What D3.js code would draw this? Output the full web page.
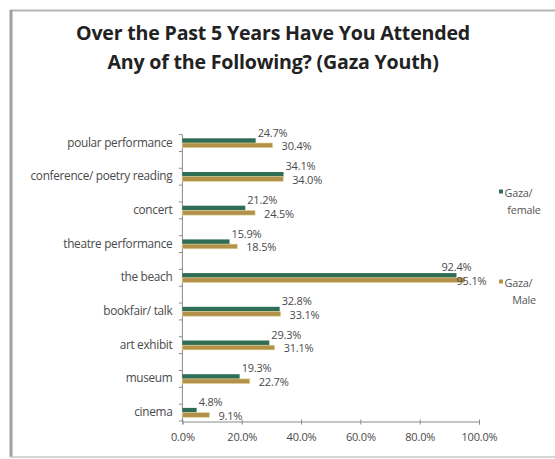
<!DOCTYPE html>
<html>
<head>
<meta charset="utf-8">
<script src="https://cdn.jsdelivr.net/npm/d3@7/dist/d3.min.js"></script>
<style>
  html, body { margin: 0; padding: 0; background: #fff; }
  svg { display: block; }
  text { font-family: "Open Sans", "Noto Sans", sans-serif; }
</style>
</head>
<body>
<svg id="chart" width="555" height="459"></svg>
<script>
// Activities attended over the past five years, Gaza youth (percent)
const categories = [
  "poular performance",
  "conference/ poetry reading",
  "concert",
  "theatre performance",
  "the beach",
  "bookfair/ talk",
  "art exhibit",
  "museum",
  "cinema"
];
const femaleValues = [24.7, 34.1, 21.2, 15.9, 92.4, 32.8, 29.3, 19.3, 4.8];
const maleValues   = [30.4, 34.0, 24.5, 18.5, 95.1, 33.1, 31.1, 22.7, 9.1];
const seriesNames  = ["Gaza/ female", "Gaza/ Male"];
const xTicks = [0, 20, 40, 60, 80, 100];

const titleLines = [
  "Over the Past 5 Years Have You Attended",
  "Any of the Following? (Gaza Youth)"
];

const GREEN = "#2f6d55";
const TAN = "#b39149";

const svg = d3.select("#chart");

// frame
svg.append("line").attr("x1", 10).attr("y1", 10.5).attr("x2", 555).attr("y2", 10.5)
  .attr("stroke", "#b5b5b5").attr("stroke-width", 2);
svg.append("line").attr("x1", 11).attr("y1", 10).attr("x2", 11).attr("y2", 457)
  .attr("stroke", "#a0a0a0").attr("stroke-width", 3);
svg.append("line").attr("x1", 10).attr("y1", 457).attr("x2", 555).attr("y2", 457)
  .attr("stroke", "#c8c8c8").attr("stroke-width", 1.5);

// title
svg.append("g").selectAll("text").data(titleLines).join("text")
  .attr("x", 273).attr("y", (d, i) => 40 + i * 29)
  .attr("text-anchor", "middle")
  .attr("font-size", 19.6).attr("font-weight", 700).attr("fill", "#222")
  .attr("letter-spacing", -0.2)
  .text(d => d);

const x = d3.scaleLinear().domain([0, 100]).range([182.4, 479]);
const y = d3.scaleBand().domain(categories).range([126.15, 429.45]);
const bw = y.bandwidth();
const barH = 4.7;
const axisTop = 135, axisBottom = 421.5;

// y axis line and ticks
svg.append("line").attr("x1", x(0)).attr("x2", x(0)).attr("y1", axisTop).attr("y2", axisBottom)
  .attr("stroke", "#8a8a8a").attr("stroke-width", 1);
const yTickPos = [];
categories.forEach(c => { yTickPos.push(y(c) + bw * 0.25, y(c) + bw * 0.75); });
svg.append("g").selectAll("line").data(yTickPos).join("line")
  .attr("x1", x(0) - 3.5).attr("x2", x(0)).attr("y1", d => d).attr("y2", d => d)
  .attr("stroke", "#8a8a8a").attr("stroke-width", 1);

// category labels
const yAxis = svg.append("g").attr("transform", `translate(${x(0)},0)`)
  .call(d3.axisLeft(y).tickSize(0).tickPadding(10));
yAxis.select(".domain").remove();
yAxis.selectAll("text").attr("font-size", 11.8).attr("fill", "#4a4a4a")
  .attr("font-family", "'Open Sans', sans-serif").attr("dy", "0.3em")
  .attr("letter-spacing", -0.3);

// x axis
const xAxis = svg.append("g").attr("transform", `translate(0,${axisBottom})`)
  .call(d3.axisBottom(x).tickValues(xTicks).tickSize(3).tickPadding(9)
    .tickFormat(d => d.toFixed(1) + "%"));
xAxis.select(".domain").attr("stroke", "#8a8a8a");
xAxis.selectAll(".tick line").attr("stroke", "#8a8a8a").attr("y1", -2);
xAxis.selectAll("text").attr("font-size", 11).attr("fill", "#4a4a4a")
  .attr("font-family", "'Open Sans', sans-serif").attr("letter-spacing", -0.2);

// bars
const rows = categories.map((c, i) => ({ c, f: femaleValues[i], m: maleValues[i] }));
const g = svg.append("g");
g.selectAll("rect.f").data(rows).join("rect").attr("class", "f")
  .attr("x", x(0)).attr("y", d => y(d.c) + bw / 2 - barH)
  .attr("width", d => x(d.f) - x(0)).attr("height", barH)
  .attr("fill", GREEN);
g.selectAll("rect.m").data(rows).join("rect").attr("class", "m")
  .attr("x", x(0)).attr("y", d => y(d.c) + bw / 2)
  .attr("width", d => x(d.m) - x(0)).attr("height", barH)
  .attr("fill", TAN).attr("stroke", "#e2d49c").attr("stroke-width", 0.6);

// value labels
const fmt = v => v.toFixed(1) + "%";
const labels = svg.append("g").attr("font-size", 11).attr("fill", "#4a4a4a")
  .attr("letter-spacing", -0.2);
labels.selectAll("text.f").data(rows).join("text").attr("class", "f")
  .attr("x", d => d.f > 90 ? x(d.f) : x(d.f) + 2)
  .attr("text-anchor", d => d.f > 90 ? "middle" : "start")
  .attr("y", d => y(d.c) + bw / 2 - barH / 2 - 8)
  .attr("dy", "0.35em")
  .text(d => fmt(d.f));
labels.selectAll("text.m").data(rows).join("text").attr("class", "m")
  .attr("x", d => d.m > 90 ? x(d.m) + 7 : x(d.m) + 9)
  .attr("text-anchor", d => d.m > 90 ? "middle" : "start")
  .attr("y", d => y(d.c) + bw / 2 + barH / 2 + 1)
  .attr("dy", "0.35em")
  .text(d => fmt(d.m));

// legend
const legend = svg.append("g");
const legendY = [193, 283];
[GREEN, TAN].forEach((col, i) => {
  const parts = seriesNames[i].split(" ");
  legend.append("rect").attr("x", 499).attr("y", legendY[i] - 3.5)
    .attr("width", 4).attr("height", 4).attr("fill", col);
  legend.append("text").attr("x", 504.5).attr("y", legendY[i]).attr("dy", "0.35em")
    .attr("font-size", 10.8).attr("fill", "#555").attr("letter-spacing", -0.2).text(parts[0]);
  legend.append("text").attr("x", 524).attr("y", legendY[i] + 17).attr("dy", "0.35em")
    .attr("text-anchor", "middle")
    .attr("font-size", 10.8).attr("fill", "#555").attr("letter-spacing", -0.2).text(parts[1]);
});
</script>
</body>
</html>
